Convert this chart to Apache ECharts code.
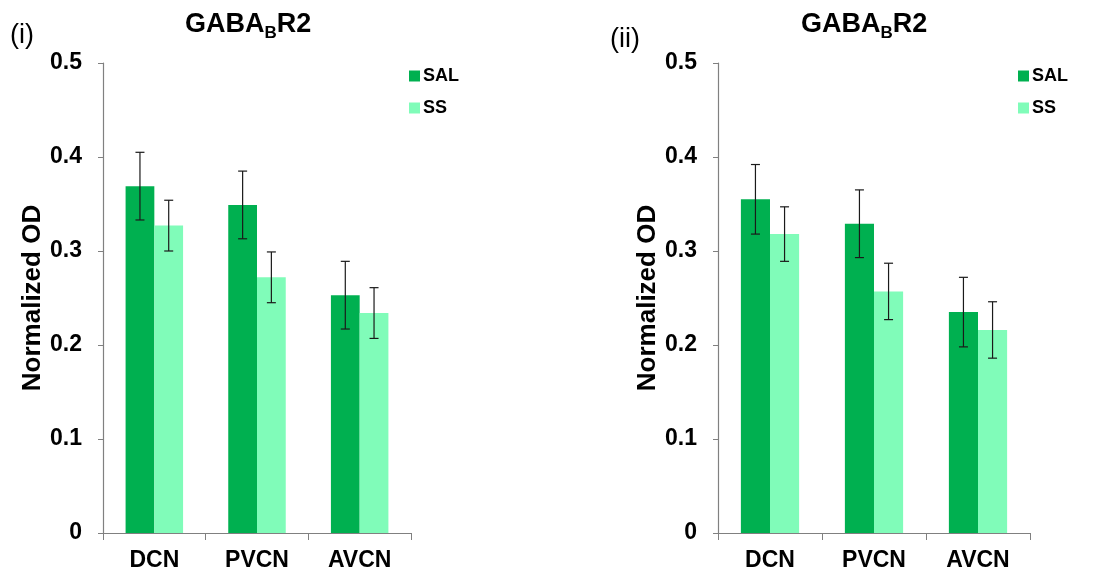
<!DOCTYPE html>
<html>
<head>
<meta charset="utf-8">
<script src="https://cdn.jsdelivr.net/npm/echarts@6/dist/echarts.min.js"></script>
<style>html,body{margin:0;padding:0;background:#fff}#c{width:1115px;height:578px}</style>
</head>
<body>
<div id="c"></div>
<script>
var categories = ['DCN', 'PVCN', 'AVCN'];
var yTicks = [0, 0.1, 0.2, 0.3, 0.4, 0.5];
// Panel (i)
var salA = [0.369, 0.349, 0.253];
var salErrA = [0.036, 0.036, 0.036];
var ssA = [0.327, 0.272, 0.234];
var ssErrA = [0.027, 0.027, 0.027];
// Panel (ii)
var salB = [0.355, 0.329, 0.235];
var salErrB = [0.037, 0.036, 0.037];
var ssB = [0.318, 0.257, 0.216];
var ssErrB = [0.029, 0.030, 0.030];

var SAL_COLOR = '#00b050';
var SS_COLOR = '#80fcb9';
var FONT = 'Liberation Sans, Arial, sans-serif';

function errData(vals, errs) {
  return vals.map(function (v, i) { return [i, v - errs[i], v + errs[i]]; });
}
function errSeries(idx, vals, errs, side) {
  return {
    type: 'custom', xAxisIndex: idx, yAxisIndex: idx, silent: true, z: 5,
    data: errData(vals, errs),
    encode: { x: 0, y: [1, 2] },
    renderItem: function (params, api) {
      var bw = api.size([1, 0])[0];
      var off = side * bw * 0.14;
      var lo = api.coord([api.value(0), api.value(1)]);
      var hi = api.coord([api.value(0), api.value(2)]);
      var x = lo[0] + off, cap = 4.5;
      var st = { stroke: '#1a1a1a', lineWidth: 1.2 };
      return { type: 'group', children: [
        { type: 'line', shape: { x1: x, y1: lo[1], x2: x, y2: hi[1] }, style: st },
        { type: 'line', shape: { x1: x - cap, y1: hi[1], x2: x + cap, y2: hi[1] }, style: st },
        { type: 'line', shape: { x1: x - cap, y1: lo[1], x2: x + cap, y2: lo[1] }, style: st }
      ]};
    }
  };
}
function xAxis(idx) {
  return {
    type: 'category', gridIndex: idx, data: categories,
    axisLine: { lineStyle: { color: '#808080', width: 1.2 } },
    axisTick: { show: true, alignWithLabel: false, length: 7, lineStyle: { color: '#808080' } },
    axisLabel: { color: '#000', fontFamily: FONT, fontWeight: 'bold', fontSize: 23, margin: 16 }
  };
}
function yAxis(idx) {
  return {
    type: 'value', gridIndex: idx, min: yTicks[0], max: yTicks[yTicks.length - 1], interval: 0.1,
    name: 'Normalized OD', nameLocation: 'middle', nameGap: 52, nameRotate: 90,
    nameTextStyle: { color: '#000', fontFamily: FONT, fontWeight: 'bold', fontSize: 26 },
    axisLine: { show: true, lineStyle: { color: '#808080', width: 1.2 } },
    axisTick: { show: true, inside: false, length: 5, lineStyle: { color: '#808080' } },
    splitLine: { show: false },
    axisLabel: { color: '#000', fontFamily: FONT, fontWeight: 'bold', fontSize: 23, margin: 21,
      formatter: function (v) { return v === 0 ? '0' : v.toFixed(1); } }
  };
}
function barSeries(idx, name, vals, color) {
  return { type: 'bar', name: name, xAxisIndex: idx, yAxisIndex: idx, data: vals,
    barWidth: '28%', barGap: '0%', itemStyle: { color: color } };
}
var titleRich = {
  a: { fontFamily: FONT, fontWeight: 'bold', fontSize: 27, color: '#000', lineHeight: 34 },
  b: { fontFamily: FONT, fontWeight: 'bold', fontSize: 17, color: '#000', lineHeight: 17, verticalAlign: 'bottom' }
};
function legend(left) {
  return { data: ['SAL', 'SS'], orient: 'vertical', left: left, top: 62, icon: 'rect',
    itemWidth: 11, itemHeight: 11, itemGap: 14, selectedMode: false,
    textStyle: { fontFamily: FONT, fontWeight: 'bold', fontSize: 18, color: '#000', padding: [0, 0, 0, -2] } };
}

var chart = echarts.init(document.getElementById('c'));
chart.setOption({
  backgroundColor: '#fff',
  animation: false,
  title: [
    { text: '(i)', left: 10, top: 22, padding: 0, textStyle: { fontFamily: FONT, fontWeight: 'normal', fontSize: 27, color: '#000' } },
    { text: '(ii)', left: 610, top: 26, padding: 0, textStyle: { fontFamily: FONT, fontWeight: 'normal', fontSize: 27, color: '#000' } },
    { text: '{a|GABA}{b|B}{a|R2}', left: 185, top: 8, padding: 0, textStyle: { rich: titleRich } },
    { text: '{a|GABA}{b|B}{a|R2}', left: 801, top: 8, padding: 0, textStyle: { rich: titleRich } }
  ],
  legend: [legend(404), legend(1013)],
  grid: [
    { left: 103, top: 63, width: 308, height: 470, containLabel: false },
    { left: 718, top: 63, width: 312, height: 470, containLabel: false }
  ],
  xAxis: [xAxis(0), xAxis(1)],
  yAxis: [yAxis(0), yAxis(1)],
  series: [
    barSeries(0, 'SAL', salA, SAL_COLOR),
    barSeries(0, 'SS', ssA, SS_COLOR),
    barSeries(1, 'SAL', salB, SAL_COLOR),
    barSeries(1, 'SS', ssB, SS_COLOR),
    errSeries(0, salA, salErrA, -1),
    errSeries(0, ssA, ssErrA, 1),
    errSeries(1, salB, salErrB, -1),
    errSeries(1, ssB, ssErrB, 1)
  ]
});
</script>
</body>
</html>
